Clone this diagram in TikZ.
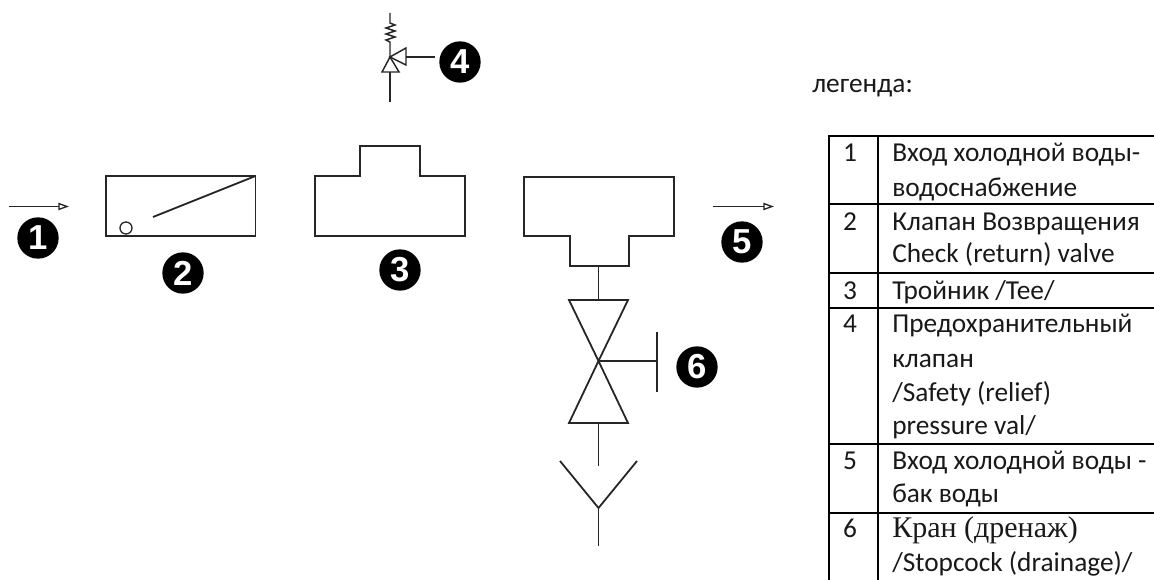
\documentclass[tikz,border=0pt]{standalone}
\usepackage{fontspec}
\setmainfont{Carlito}
\newfontfamily\serifcell{Liberation Serif}
\newfontfamily\badgefont{Liberation Sans}
\usetikzlibrary{arrows.meta}
\tikzset{
  sym/.style={draw=black!85, line width=1.35pt, line join=miter},
  flow/.style={draw=black!85, line width=1pt, -{Triangle[open,length=8pt,width=5.5pt]}},
  badge/.style={circle, fill=black, inner sep=0pt, minimum size=31pt, text=white, font=\badgefont\bfseries\fontsize{26pt}{26pt}\selectfont},
  rule/.style={draw=black, line width=1.5pt},
  celltext/.style={anchor=base west, inner sep=0pt, font=\fontsize{20.5pt}{20.5pt}\selectfont, text=black!90},
  numtext/.style={celltext, anchor=base}
}
\begin{document}
\begin{tikzpicture}[x=0.75pt,y=-0.75pt]
\useasboundingbox (0,0) rectangle (1154,580);
% inlet and outlet arrows
\coordinate (inA) at (9,206.5); \coordinate (inB) at (69,206.5);
\coordinate (outA) at (713,206.5); \coordinate (outB) at (774,206.5);
\draw[flow] (inA) -- (inB);
\draw[flow] (outA) -- (outB);
% check valve
\draw[sym] (106,176) rectangle (255.5,236);
\draw[sym, line width=1pt] (126,228) circle (6);
\draw[sym] (153,217) -- (255.5,176);
% tee
\draw[sym] (315,176) -- (360,176) -- (360,146) -- (420,146) -- (420,176) -- (465,176) -- (465,236) -- (315,236) -- cycle;
% lower tee
\draw[sym] (524,177) -- (674,177) -- (674,236) -- (629,236) -- (629,266) -- (570,266) -- (570,236) -- (524,236) -- cycle;
% stopcock
\coordinate (vc) at (598.5,361);
\draw[sym] (598.5,266) -- (598.5,300);
\draw[sym] (569,300) -- (628,300) -- (vc) -- cycle;
\draw[sym] (569,423) -- (628,423) -- (vc) -- cycle;
\draw[sym] (vc) -- (657,361);
\draw[sym] (657,332) -- (657,392);
\draw[sym] (598.5,423) -- (598.5,466);
\draw[sym] (560,461) -- (598.5,508) -- (637,461);
\draw[sym] (598.5,508) -- (598.5,546);
% safety valve
\coordinate (sv) at (390,57);
\draw[sym, line width=1.1pt] (390,13) -- (390,23) -- (395,25) -- (386,28) -- (395,31) -- (386,34) -- (395,37) -- (386,40) -- (390,42) -- (sv);
\draw[sym, line width=1.1pt] (382,72) -- (399,72) -- (sv) -- cycle;
\draw[sym, line width=1.1pt] (406,48) -- (406,65) -- (sv) -- cycle;
\draw[sym, line width=1.1pt] (406,57) -- (435,57);
\draw[sym, line width=1.1pt] (390,72) -- (390,102);
% badges
\node[badge] (b1) at (38,238) {1};
\node[badge] (b2) at (183,273) {2};
\node[badge] (b3) at (400,270) {3};
\node[badge] (b4) at (460,62) {4};
\node[badge] (b5) at (742,242) {5};
\node[badge] (b6) at (697,367) {6};
% legend
\node[celltext] (title) at (812,93) {легенда:};
\draw[rule] (828,136) -- (1154,136);
\draw[rule] (828,204.5) -- (1154,204.5);
\draw[rule] (828,273) -- (1154,273);
\draw[rule] (828,308) -- (1154,308);
\draw[rule] (828,444) -- (1154,444);
\draw[rule] (828,513) -- (1154,513);
\draw[rule] (829,136) -- (829,580);
\draw[rule] (877.5,136) -- (877.5,580);
\node[numtext] (n1) at (850,162) {1};
\node[numtext] (n2) at (850,231) {2};
\node[numtext] (n3) at (850,300) {3};
\node[numtext] (n4) at (850,333) {4};
\node[numtext] (n5) at (850,470) {5};
\node[numtext] (n6) at (850,538) {6};
\node[celltext] (t1a) at (892,162) {Вход холодной воды-};
\node[celltext] (t1b) at (892,197) {водоснабжение};
\node[celltext] (t2a) at (892,231) {Клапан Возвращения};
\node[celltext] (t2b) at (892,263) {Check (return) valve};
\node[celltext] (t3) at (892,300) {Тройник /Tee/};
\node[celltext] (t4a) at (892,333) {Предохранительный};
\node[celltext] (t4b) at (892,368) {клапан};
\node[celltext] (t4c) at (892,402) {/Safety (relief)};
\node[celltext] (t4d) at (892,435) {pressure val/};
\node[celltext] (t5a) at (892,470) {Вход холодной воды -};
\node[celltext] (t5b) at (892,503) {бак воды};
\node[celltext, font=\serifcell\fontsize{22.5pt}{22.5pt}\selectfont] (t6a) at (892,538) {Кран (дренаж)};
\node[celltext] (t6b) at (892,572) {/Stopcock (drainage)/};
\end{tikzpicture}
\end{document}
